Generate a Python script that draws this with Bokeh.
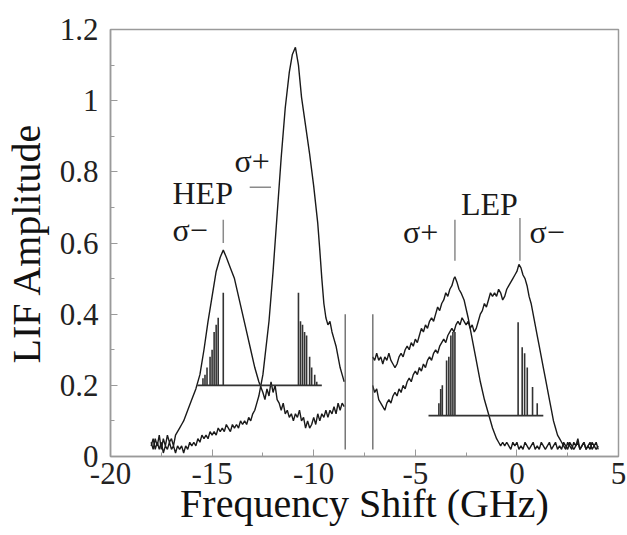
from bokeh.plotting import figure
from bokeh.models import Label, FixedTicker, NumeralTickFormatter
from bokeh.embed import file_html
from bokeh.resources import INLINE

# ---- data ----
# HEP sigma- trace
hep_minus_x = [-18.0, -17.9, -17.8, -17.7, -17.6, -17.5, -17.4, -17.3, -17.2, -17.1, -17.0, -16.9, -16.8, -16.7,
               -16.6, -16.5, -16.4, -16.2, -16.0, -15.8, -15.6, -15.4, -15.2, -15.0, -14.8, -14.6, -14.45, -14.3,
               -14.1, -13.9, -13.7, -13.5, -13.3, -13.1, -12.9, -12.7, -12.5, -12.4, -12.3, -12.2, -12.1, -12.0,
               -11.9, -11.8, -11.7, -11.6, -11.5, -11.4, -11.3, -11.2, -11.1, -11.0, -10.9, -10.8, -10.7, -10.6,
               -10.5, -10.4, -10.3, -10.2, -10.1, -10.0, -9.9, -9.8, -9.7, -9.6, -9.5, -9.4, -9.3, -9.2, -9.1,
               -9.0, -8.9, -8.8, -8.7, -8.6, -8.5]
hep_minus_y = [0.04, 0.02, 0.05, 0.03, 0.06, 0.02, 0.05, 0.03, 0.06, 0.04, 0.05, 0.03, 0.06, 0.07,
               0.08, 0.09, 0.10, 0.13, 0.16, 0.19, 0.23, 0.30, 0.38, 0.45, 0.52, 0.56, 0.58, 0.56,
               0.53, 0.50, 0.45, 0.40, 0.35, 0.30, 0.25, 0.21, 0.18, 0.16, 0.19, 0.17, 0.21, 0.18,
               0.20, 0.16, 0.15, 0.13, 0.15, 0.12, 0.13, 0.11, 0.12, 0.10, 0.12, 0.11, 0.13, 0.10,
               0.11, 0.08, 0.10, 0.08, 0.09, 0.11, 0.09, 0.12, 0.10, 0.12, 0.11, 0.13, 0.11, 0.13, 0.12,
               0.14, 0.12, 0.15, 0.13, 0.15, 0.14]

# HEP sigma+ trace
hep_plus_x = [-18.0, -17.9, -17.8, -17.7, -17.6, -17.5, -17.4, -17.3, -17.2, -17.1, -17.0, -16.9, -16.8, -16.7,
              -16.6, -16.5, -16.4, -16.3, -16.2, -16.1, -16.0, -15.9, -15.8, -15.7, -15.6, -15.5, -15.4, -15.3,
              -15.2, -15.1, -15.0, -14.9, -14.8, -14.7, -14.6, -14.5, -14.4, -14.3, -14.2, -14.1, -14.0, -13.9,
              -13.8, -13.7, -13.6, -13.5, -13.4, -13.3, -13.2, -13.1, -13.0, -12.9, -12.8, -12.7, -12.6, -12.5,
              -12.4, -12.2, -12.0, -11.8, -11.6, -11.4, -11.2, -11.05, -10.9, -10.75, -10.6, -10.4, -10.2, -10.0,
              -9.8, -9.7, -9.6, -9.5, -9.4, -9.3, -9.2, -9.1, -9.0, -8.9, -8.8, -8.7, -8.6, -8.5]
hep_plus_y = [0.03, 0.05, 0.02, 0.04, 0.02, 0.04, 0.01, 0.03, 0.02, 0.04, 0.02, 0.03, 0.01, 0.03,
              0.02, 0.03, 0.01, 0.03, 0.02, 0.04, 0.03, 0.04, 0.03, 0.05, 0.04, 0.06, 0.05, 0.06,
              0.05, 0.07, 0.06, 0.07, 0.06, 0.08, 0.07, 0.08, 0.07, 0.09, 0.08, 0.07, 0.09, 0.08,
              0.09, 0.08, 0.10, 0.09, 0.10, 0.09, 0.11, 0.10, 0.12, 0.13, 0.15, 0.17, 0.20, 0.23,
              0.28, 0.38, 0.52, 0.68, 0.84, 0.98, 1.08, 1.13, 1.15, 1.10, 1.01, 0.93, 0.85, 0.76,
              0.655, 0.58, 0.50, 0.43, 0.39, 0.37, 0.38, 0.35, 0.33, 0.31, 0.28, 0.25, 0.23, 0.21]

# LEP sigma+ trace
lep_plus_x = [-7.1, -7.0, -6.9, -6.8, -6.7, -6.6, -6.5, -6.4, -6.3, -6.2, -6.1, -6.0, -5.9, -5.8, -5.7, -5.6,
              -5.5, -5.4, -5.3, -5.2, -5.1, -5.0, -4.9, -4.8, -4.7, -4.6, -4.5, -4.4, -4.3, -4.2, -4.1, -4.0,
              -3.9, -3.8, -3.7, -3.6, -3.5, -3.4, -3.3, -3.2, -3.1, -3.05, -2.95, -2.85, -2.75, -2.6, -2.4, -2.2,
              -2.0, -1.8, -1.6, -1.4, -1.2, -1.0, -0.9, -0.8, -0.7, -0.6, -0.5, -0.4, -0.3, -0.2, -0.1, 0.0,
              0.1, 0.2, 0.3, 0.4, 0.5, 0.6, 0.7, 0.8, 0.9, 1.0, 1.1, 1.2, 1.3, 1.4, 1.5, 1.6, 1.7, 1.8, 1.9,
              2.0, 2.1, 2.2, 2.3, 2.4, 2.5, 2.6, 2.7, 2.8, 2.9, 3.0, 3.1, 3.2, 3.3, 3.4, 3.5, 3.6, 3.7, 3.8,
              3.9, 4.0]
lep_plus_y = [0.28, 0.27, 0.29, 0.27, 0.28, 0.26, 0.28, 0.27, 0.29, 0.27, 0.26, 0.25, 0.26, 0.28, 0.29, 0.28,
              0.30, 0.31, 0.30, 0.32, 0.31, 0.33, 0.32, 0.34, 0.36, 0.35, 0.37, 0.36, 0.38, 0.39, 0.38, 0.40,
              0.42, 0.41, 0.43, 0.44, 0.46, 0.45, 0.47, 0.48, 0.50, 0.505, 0.49, 0.47, 0.46, 0.44, 0.39, 0.33,
              0.27, 0.21, 0.16, 0.12, 0.08, 0.05, 0.04, 0.03, 0.04, 0.03, 0.04, 0.03, 0.02, 0.04, 0.03, 0.04,
              0.02, 0.03, 0.02, 0.04, 0.03, 0.02, 0.03, 0.04, 0.02, 0.03, 0.02, 0.04, 0.03, 0.02, 0.03, 0.04,
              0.02, 0.03, 0.04, 0.02, 0.03, 0.02, 0.04, 0.03, 0.02, 0.04, 0.03, 0.02, 0.03, 0.04, 0.02, 0.03,
              0.04, 0.02, 0.03, 0.02, 0.04, 0.03, 0.02, 0.03]

# LEP sigma- trace
lep_minus_x = [-7.1, -7.0, -6.9, -6.8, -6.7, -6.6, -6.5, -6.4, -6.3, -6.2, -6.1, -6.0, -5.9, -5.8, -5.7, -5.6,
               -5.5, -5.4, -5.3, -5.2, -5.1, -5.0, -4.9, -4.8, -4.7, -4.6, -4.5, -4.4, -4.3, -4.2, -4.1, -4.0,
               -3.9, -3.8, -3.7, -3.6, -3.5, -3.4, -3.3, -3.2, -3.1, -3.0, -2.9, -2.8, -2.7, -2.6, -2.5, -2.4,
               -2.3, -2.2, -2.1, -2.0, -1.9, -1.8, -1.7, -1.6, -1.5, -1.4, -1.3, -1.2, -1.1, -1.0, -0.9, -0.8,
               -0.7, -0.6, -0.5, -0.4, -0.3, -0.2, -0.1, 0.0, 0.1, 0.2, 0.3, 0.4, 0.5, 0.6, 0.7, 0.8, 0.9, 1.0,
               1.1, 1.2, 1.3, 1.4, 1.5, 1.6, 1.7, 1.8, 1.9, 2.0, 2.1, 2.2, 2.3, 2.4, 2.5, 2.6, 2.7, 2.8, 2.9,
               3.0, 3.1, 3.2, 3.3, 3.4, 3.5, 3.6, 3.7, 3.8, 3.9, 4.0]
lep_minus_y = [0.20, 0.18, 0.19, 0.16, 0.15, 0.14, 0.13, 0.15, 0.16, 0.15, 0.17, 0.18, 0.17, 0.19, 0.18, 0.20,
               0.19, 0.21, 0.22, 0.21, 0.23, 0.24, 0.23, 0.25, 0.24, 0.26, 0.25, 0.27, 0.28, 0.27, 0.29, 0.30,
               0.29, 0.31, 0.32, 0.33, 0.32, 0.34, 0.35, 0.36, 0.35, 0.37, 0.38, 0.37, 0.39, 0.38, 0.37, 0.38,
               0.36, 0.37, 0.35, 0.36, 0.38, 0.40, 0.41, 0.43, 0.42, 0.44, 0.46, 0.45, 0.46, 0.45, 0.47, 0.46,
               0.44, 0.45, 0.47, 0.48, 0.49, 0.50, 0.51, 0.52, 0.54, 0.53, 0.51, 0.50, 0.48, 0.45, 0.43, 0.40,
               0.37, 0.34, 0.31, 0.28, 0.25, 0.22, 0.19, 0.16, 0.13, 0.10, 0.08, 0.06, 0.05, 0.04, 0.03, 0.02,
               0.04, 0.03, 0.02, 0.04, 0.03, 0.05, 0.02, 0.03, 0.04, 0.02, 0.03, 0.04, 0.02, 0.03, 0.04, 0.02,
               0.03, 0.03]

# stick spectra: HEP (baseline 0.2) and LEP (baseline 0.115)
hep_base = 0.2
hep_base_span = [-15.73, -9.6]
hep_stick_x = [-15.45, -15.35, -15.25, -15.1, -15.0, -14.9, -14.8, -14.7, -14.45,
               -10.75, -10.65, -10.55, -10.45, -10.35, -10.2, -10.1, -9.95, -9.85]
hep_stick_top = [0.22, 0.23, 0.25, 0.28, 0.30, 0.35, 0.37, 0.39, 0.46,
                 0.46, 0.38, 0.37, 0.35, 0.34, 0.28, 0.25, 0.23, 0.21]
lep_base = 0.115
lep_base_span = [-4.35, 1.3]
lep_stick_x = [-3.84, -3.75, -3.67, -3.46, -3.35, -3.25, -3.15, -3.05,
               0.06, 0.26, 0.38, 0.51, 0.77, 1.0]
lep_stick_top = [0.15, 0.19, 0.20, 0.27, 0.28, 0.34, 0.35, 0.35,
                 0.377, 0.307, 0.29, 0.25, 0.195, 0.15]

# marker lines above peaks and break lines
marker_x = [-14.45, -3.05, 0.15]
marker_y0 = [0.60, 0.55, 0.55]
marker_y1 = [0.665, 0.665, 0.67]
dash_x = [-13.15, -12.1]
dash_y = 0.757
break_x = [-8.45, -7.09]
break_y0 = 0.02
break_y1 = 0.40

x_ticks = [-20, -15, -10, -5, 0, 5]
y_ticks = [0, 0.2, 0.4, 0.6, 0.8, 1.0, 1.2]

FONT = "Liberation Serif"
TRACE = "#1a1a1a"
GREY = "#9a9a9a"

p = figure(width=627, height=535, x_range=(-20, 5), y_range=(0, 1.2),
           output_backend="svg", toolbar_location=None,
           min_border_left=110, min_border_right=9, min_border_top=29, min_border_bottom=79,
           background_fill_color="white", border_fill_color="white")
p.grid.visible = False
p.outline_line_color = GREY
p.outline_line_width = 1.5

# traces
for xs, ys in [(hep_minus_x, hep_minus_y), (hep_plus_x, hep_plus_y),
               (lep_plus_x, lep_plus_y), (lep_minus_x, lep_minus_y)]:
    p.line(xs, ys, line_color=TRACE, line_width=1.4)

# stick spectra
p.segment(x0=hep_stick_x, y0=[hep_base] * len(hep_stick_x), x1=hep_stick_x, y1=hep_stick_top,
          line_color="#333333", line_width=1.6)
p.segment(x0=[hep_base_span[0]], y0=[hep_base], x1=[hep_base_span[1]], y1=[hep_base],
          line_color="#333333", line_width=1.6)
p.segment(x0=lep_stick_x, y0=[lep_base] * len(lep_stick_x), x1=lep_stick_x, y1=lep_stick_top,
          line_color="#333333", line_width=1.6)
p.segment(x0=[lep_base_span[0]], y0=[lep_base], x1=[lep_base_span[1]], y1=[lep_base],
          line_color="#333333", line_width=1.6)

# marker lines
p.segment(x0=marker_x, y0=marker_y0, x1=marker_x, y1=marker_y1, line_color="#8a8a8a", line_width=1.5)
p.segment(x0=[dash_x[0]], y0=[dash_y], x1=[dash_x[1]], y1=[dash_y], line_color="#8a8a8a", line_width=1.5)
p.segment(x0=break_x, y0=[break_y0] * 2, x1=break_x, y1=[break_y1] * 2, line_color="#555555", line_width=1.2)

# annotation labels
for txt, lx, ly in [("σ−", -16.95, 0.637), ("HEP", -16.95, 0.74), ("σ+", -13.9, 0.83),
                    ("LEP", -2.75, 0.71), ("σ+", -5.6, 0.63), ("σ−", 0.62, 0.63)]:
    p.add_layout(Label(x=lx, y=ly, text=txt, text_font=FONT, text_font_size="32px",
                       text_color="#1a1a1a", text_baseline="middle", text_align="left"))

# axes
p.xaxis.ticker = FixedTicker(ticks=x_ticks, minor_ticks=[-17.5, -12.5, -7.5, -2.5, 2.5])
p.yaxis.ticker = FixedTicker(ticks=y_ticks, minor_ticks=[0.1, 0.3, 0.5, 0.7, 0.9, 1.1])
p.xaxis.formatter = NumeralTickFormatter(format="0")
p.yaxis.formatter = NumeralTickFormatter(format="0.[0]")
for ax in (p.xaxis[0], p.yaxis[0]):
    ax.axis_line_color = GREY
    ax.axis_line_width = 1.5
    ax.major_tick_line_color = GREY
    ax.minor_tick_line_color = GREY
    ax.major_tick_in = 7
    ax.major_tick_out = 0
    ax.minor_tick_in = 4
    ax.minor_tick_out = 0
    ax.major_label_text_font = FONT
    ax.major_label_text_font_size = "31px"
    ax.major_label_text_color = "#222222"
    ax.axis_label_text_font = FONT
    ax.axis_label_text_font_size = "40px"
    ax.axis_label_text_font_style = "normal"
    ax.axis_label_text_color = "#111111"

p.xaxis.axis_label = "Frequency Shift (GHz)"
p.yaxis.axis_label = "LIF Amplitude"
p.xaxis.major_label_standoff = 6
p.xaxis.axis_label_standoff = -6
p.yaxis.major_label_standoff = 12
p.yaxis.axis_label_standoff = 8

open("out.html", "w").write(file_html(p, INLINE))
